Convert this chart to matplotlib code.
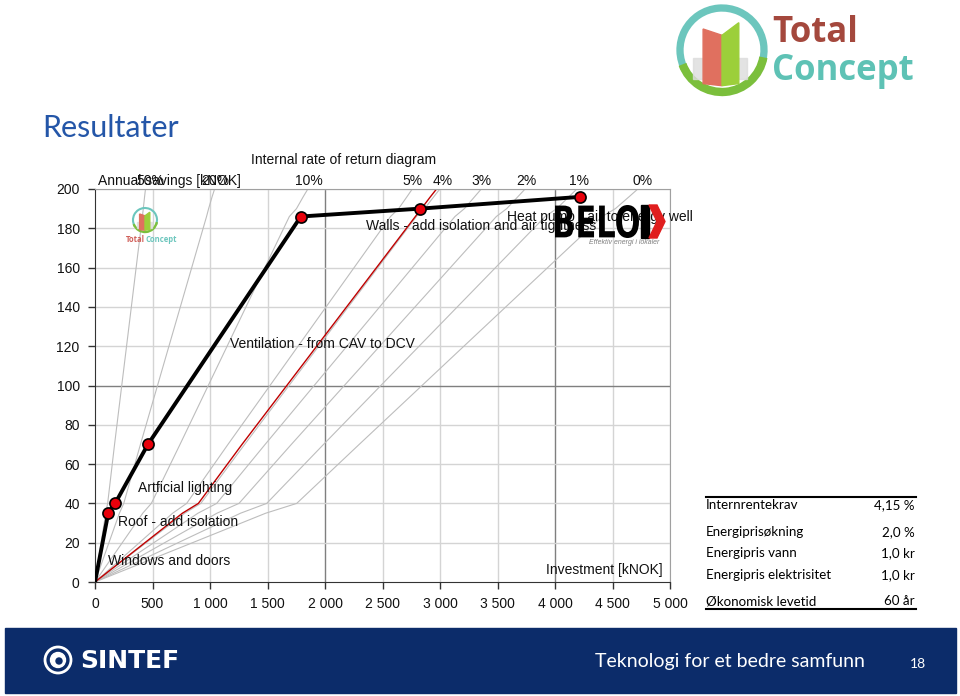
import matplotlib
matplotlib.use('Agg')
import matplotlib.pyplot as plt
from matplotlib.patches import Rectangle, Circle, Arc, Polygon, PathPatch
from matplotlib.textpath import TextPath
from matplotlib.font_manager import FontProperties
from matplotlib.transforms import Affine2D

plt.rcParams['font.family'] = ['Liberation Sans', 'DejaVu Sans']

# --- data -------------------------------------------------------------
# cumulative annual savings [kNOK] vs cumulative investment [kNOK]
savings = [0, 35, 40, 70, 186, 190, 196]
investment = [0, 115, 175, 460, 1790, 2825, 4220]

measure_names = ['Windows and doors', 'Roof - add isolation', 'Artficial lighting',
                 'Ventilation - from CAV to DCV',
                 'Walls - add isolation and air tightness',
                 'Heat pump - air to energy well']
measure_x = [113, 200, 374, 1174, 2357, 3583]
measure_y = [10.7, 30.5, 47.8, 121, 181, 185.8]

# internal rate of return lines (investment at each savings level)
irr_savings = [0, 35, 40, 70, 186, 190, 196, 200]
irr_50 = [0, 93, 110, 170, 412, 420, 431, 439]
irr_20 = [0, 212, 250, 395, 970, 988, 1018, 1040]
irr_10 = [0, 415, 490, 739, 1690, 1752, 1810, 1851]
irr_5 = [0, 675, 797, 1156, 2570, 2640, 2712, 2759]
irr_4 = [0, 780, 920, 1301, 2795, 2866, 2945, 2999]
irr_3 = [0, 895, 1058, 1479, 3130, 3212, 3300, 3359]
irr_2 = [0, 1060, 1252, 1707, 3490, 3580, 3676, 3740]
irr_1 = [0, 1265, 1493, 1987, 3915, 4015, 4120, 4190]
irr_0 = [0, 1484, 1754, 2297, 4410, 4525, 4643, 4720]
irr_req = [0, 760, 899, 1278, 2786, 2838, 2916, 2970]   # 4,15 %

irr_lines = [irr_50, irr_20, irr_10, irr_5, irr_4, irr_3, irr_2, irr_1, irr_0]
irr_labels = ['50%', '20%', '10%', '5%', '4%', '3%', '2%', '1%', '0%']
irr_label_x = [478, 1043, 1861, 2765, 3026, 3357, 3748, 4209, 4765]

x_ticks = [0, 500, 1000, 1500, 2000, 2500, 3000, 3500, 4000, 4500, 5000]
y_ticks = [0, 20, 40, 60, 80, 100, 120, 140, 160, 180, 200]

table_labels = ['Internrentekrav', 'Energiprisøkning', 'Energipris vann',
                'Energipris elektrisitet', 'Økonomisk levetid']
table_values = ['4,15 %', '2,0 %', '1,0 kr', '1,0 kr', '60 år']
table_rows_y = [505, 532, 553, 575, 601]

# --- figure -----------------------------------------------------------
W, H = 960, 696
fig = plt.figure(figsize=(W / 100, H / 100), dpi=100)
fig.patch.set_facecolor('white')

ax = fig.add_axes([95 / W, 1 - 582 / H, 575 / W, 393 / H])
ax.set_xlim(0, 5000)
ax.set_ylim(0, 200)

for v in x_ticks[1:]:
    c = '#7f7f7f' if v in (2000, 4000) else '#d4d4d4'
    ax.axvline(v, color=c, lw=1, zorder=0)
for v in y_ticks[1:]:
    c = '#7f7f7f' if v == 100 else '#d4d4d4'
    ax.axhline(v, color=c, lw=1, zorder=0)

for line in irr_lines:
    ax.plot(line, irr_savings, color='#bdbdbd', lw=0.8, zorder=1)
ax.plot(irr_req, irr_savings, color='#c00000', lw=1, zorder=2)

ax.plot(investment, savings, color='black', lw=2.8, zorder=3,
        marker='o', markersize=8, markerfacecolor='#e8000b',
        markeredgecolor='black', markeredgewidth=1.2, markevery=list(range(1, len(savings))))

for name, x, y in zip(measure_names, measure_x, measure_y):
    ax.text(x, y, name, fontsize=10, va='center', ha='left', color='#111111', zorder=4)

ax.text(3922, 6.1, 'Investment [kNOK]', fontsize=10, va='center', ha='left', color='#111111')
ax.text(26, 204, 'Annual savings [kNOK]', fontsize=10, va='center', ha='left',
        color='#111111', clip_on=False)
ax.text(1357, 214.7, 'Internal rate of return diagram', fontsize=10, va='center',
        ha='left', color='#111111', clip_on=False)
for lab, x in zip(irr_labels, irr_label_x):
    ax.text(x, 204, lab, fontsize=10, va='center', ha='center', color='#111111',
            clip_on=False)

ax.set_xticks(x_ticks)
ax.set_xticklabels([f'{v:,}'.replace(',', ' ') for v in x_ticks])
ax.set_yticks(y_ticks)
ax.tick_params(direction='out', length=5, width=1, color='#333333',
               labelsize=10, labelcolor='#111111', pad=6)
for s in ('left', 'bottom'):
    ax.spines[s].set_color('#333333')
for s in ('top', 'right'):
    ax.spines[s].set_color('#a0a0a0')

# --- overlay in pixel coordinates ---------------------------------------
ov = fig.add_axes([0, 0, 1, 1])
ov.set_xlim(0, W)
ov.set_ylim(H, 0)
ov.axis('off')
ov.patch.set_alpha(0)

ov.text(42, 128, 'Resultater', fontsize=22, color='#2456a8', family='Lato',
        va='center', ha='left')

# parameter table
ov.plot([706, 916], [497, 497], color='black', lw=1.5)
ov.plot([706, 916], [609, 609], color='black', lw=1.5)
for lab, val, y in zip(table_labels, table_values, table_rows_y):
    ov.text(706, y, lab, fontsize=9.6, family='Lato', va='center', ha='left')
    ov.text(915, y, val, fontsize=9.6, family='Lato', va='center', ha='right')

# footer
ov.add_patch(Rectangle((5, 628), 951, 65, color='#0c2c6a', zorder=1))
ov.add_patch(Circle((58, 660), 13, fill=False, ec='white', lw=2, zorder=2))
ov.add_patch(Circle((58, 660), 7.5, color='white', zorder=2))
ov.add_patch(Circle((59, 661), 3, color='#0c2c6a', zorder=3))
ov.text(80, 661, 'SINTEF', fontsize=18, fontweight='bold', color='white',
        family='DejaVu Sans', va='center', ha='left', zorder=3)
ov.text(595, 661, 'Teknologi for et bedre samfunn', fontsize=14, color='white',
        family='Lato', va='center', ha='left', zorder=3)
ov.text(910, 664, '18', fontsize=10, color='white', family='Lato',
        va='center', ha='left', zorder=3)


def total_concept_logo(cx, cy, r, text_size, text_dx, text_rows):
    ov.add_patch(Arc((cx, cy), 2 * r, 2 * r, theta1=150, theta2=380,
                     color='#6cc6bd', lw=r / 8))
    ov.add_patch(Arc((cx, cy), 2 * r, 2 * r, theta1=10, theta2=160,
                     color='#7bbf3c', lw=r / 7))
    ov.add_patch(Polygon([(cx - 0.7 * r, cy + 0.2 * r), (cx + 0.6 * r, cy + 0.2 * r),
                          (cx + 0.6 * r, cy + 0.7 * r), (cx - 0.7 * r, cy + 0.7 * r)],
                         color='#dcdcdc', alpha=0.8))
    ov.add_patch(Polygon([(cx - 0.45 * r, cy - 0.5 * r), (cx, cy - 0.35 * r),
                          (cx, cy + 0.85 * r), (cx - 0.45 * r, cy + 0.8 * r)],
                         color='#e0705f'))
    ov.add_patch(Polygon([(cx, cy - 0.35 * r), (cx + 0.4 * r, cy - 0.65 * r),
                          (cx + 0.4 * r, cy + 0.8 * r), (cx, cy + 0.85 * r)],
                         color='#9ccf3a'))
    if text_rows:
        ov.text(cx + text_dx, cy - 0.4 * r, 'Total', fontsize=text_size,
                fontweight='bold', color='#a4483d', family='Open Sans',
                va='center', ha='left')
        ov.text(cx + text_dx, cy + 0.5 * r, 'Concept', fontsize=text_size,
                fontweight='bold', color='#5ec2b5', family='Open Sans',
                va='center', ha='left')


total_concept_logo(722, 50, 42, 25, 50, True)
total_concept_logo(145, 220, 12, 0, 0, False)
ov.text(145, 240, 'Total', fontsize=5.5, fontweight='bold', color='#d0605a',
        va='center', ha='right', family='Open Sans')
ov.text(145, 240, 'Concept', fontsize=5.5, fontweight='bold', color='#6cc6bd',
        va='center', ha='left', family='Open Sans')

# BELOK logo
tp = TextPath((0, 0), 'BELO', size=10, prop=FontProperties(family='DejaVu Sans',
                                                               weight='bold'))
bb = tp.get_extents()
sx = 84 / bb.width
sy = 33 / bb.height
tr = Affine2D().translate(-bb.x0, -bb.y0).scale(sx, -sy).translate(555, 238)
ov.add_patch(PathPatch(tr.transform_path(tp), color='black', lw=0, zorder=5))
ov.add_patch(Rectangle((641, 205), 8, 33, color='black', zorder=5))
ov.add_patch(Polygon([(649, 205), (657, 205), (665, 221.5), (657, 238), (649, 238),
                      (657, 221.5)], color='#e01e1e', zorder=5))
ov.text(589, 242, 'Effektiv energi i lokaler', fontsize=5, style='italic',
        color='#808080', va='center', ha='left', zorder=5)

fig.savefig('out.png', dpi=100)
